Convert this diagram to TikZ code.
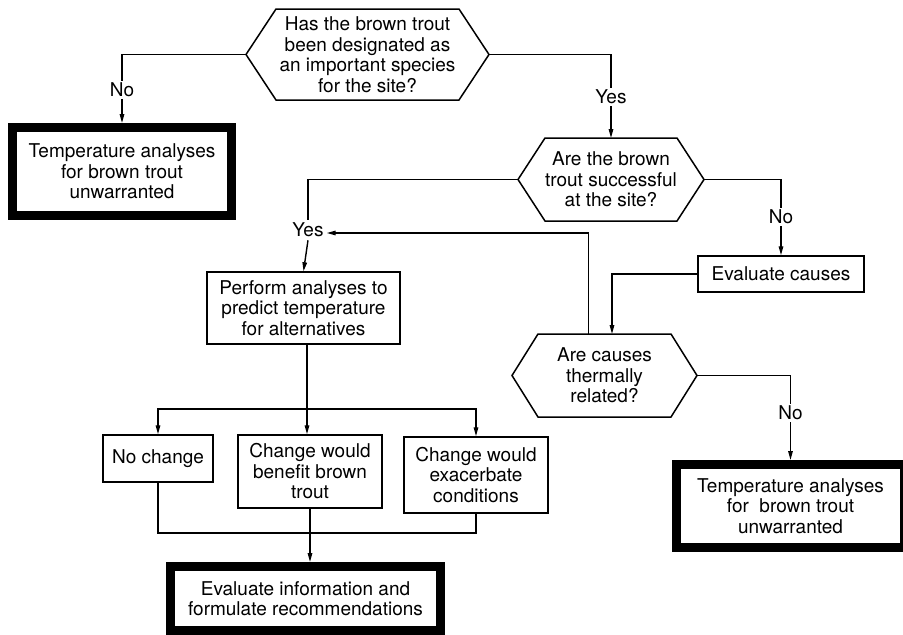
\documentclass[tikz,border=0pt]{standalone}
\usepackage{fontspec}
\setmainfont{TeX Gyre Heros}
\usetikzlibrary{arrows.meta,calc}
\tikzset{
  txt/.style={font=\fontsize{19}{20.5}\selectfont, align=center, inner sep=0pt},
  box/.style={txt, draw, line width=1.5pt},
  thickbox/.style={txt, draw, line width=9pt},
  hexnode/.style={txt, outer sep=0pt},
  hexline/.style={line width=1.5pt, line join=miter},
  conn/.style={line width=1.4pt},
  arr/.style={conn, -{Triangle[length=9pt,width=4.5pt]}},
  lbl/.style={txt, fill=white, inner sep=2pt}
}
\newcommand\hexdraw[2]{%
  \draw[hexline] (#1.west) -- ($(#1.north west)+(#2,0)$) -- ($(#1.north east)+(-#2,0)$)
    -- (#1.east) -- ($(#1.south east)+(-#2,0)$) -- ($(#1.south west)+(#2,0)$) -- cycle;}
\begin{document}
\begin{tikzpicture}[x=1pt,y=-1pt]
\useasboundingbox (0,0) rectangle (903,635);
\clip (0,0) rectangle (903,635);
\fill[white] (0,0) rectangle (903,635);

% decisions
\node[hexnode, minimum width=243pt, minimum height=91pt] (h1) at (367.5,54.5)
  {Has the brown trout\\been designated as\\an important species\\for the site?};
\hexdraw{h1}{30}
\node[hexnode, minimum width=186pt, minimum height=83pt] (h2) at (611,179.5)
  {Are the brown\\trout successful\\at the site?};
\hexdraw{h2}{27}
\node[hexnode, minimum width=185pt, minimum height=83pt] (h3) at (604.5,375.5)
  {Are causes\\thermally\\related?};
\hexdraw{h3}{26}

% terminal boxes
\node[thickbox, minimum width=219pt, minimum height=88pt] (lbox) at (122,171.5)
  {Temperature analyses\\for brown trout\\unwarranted};
\node[thickbox, minimum width=228pt, minimum height=83pt] (rbox) at (790.5,506)
  {Temperature analyses\\for~ brown trout\\unwarranted};
\node[thickbox, minimum width=270pt, minimum height=64pt] (evalbox) at (305.5,598.5)
  {Evaluate information and\\formulate recommendations};

% process boxes
\node[box, minimum width=193pt, minimum height=72pt] (perf) at (303.5,308)
  {Perform analyses to\\predict temperature\\for alternatives};
\node[box, minimum width=166pt, minimum height=36pt] (ec) at (781,274) {Evaluate causes};
\node[box, minimum width=110pt, minimum height=47pt] (nc) at (158,458.5) {No change};
\node[box, minimum width=144pt, minimum height=73pt] (bt) at (310,471.5)
  {Change would\\benefit brown\\trout};
\node[box, minimum width=144pt, minimum height=76pt] (ex) at (476,475)
  {Change would\\exacerbate\\conditions};

% Yes junction label
\node[txt] (yes2) at (308,230) {Yes};

% connectors
\draw[arr] (h1.west) -| node[lbl, pos=0.757] {No} (lbox.north);
\draw[arr] (h1.east) -| node[lbl, pos=0.755] {Yes} (h2.north);
\draw[conn] (h2.west) -| ($(yes2.north)+(0,-3)$);
\draw[arr] ($(yes2.south)+(0,3)$) -- (perf.north);
\draw[arr] ($(h3.north)+(-16,0)$) |- ($(yes2.east)+(3,3)$);
\draw[arr] (h2.east) -| node[lbl, pos=0.745] {No} (ec.north);
\draw[arr] (ec.west) -| ($(h3.north)+(7.5,0)$);
\draw[arr] (h3.east) -| node[lbl, pos=0.72] {No} (rbox.north);

\coordinate (split) at (307,409);
\draw[line width=2pt] (perf.south -| split) -- (split);
\draw[arr] (split) -| (nc.north);
\draw[arr] (split) -| (ex.north);
\draw[arr] (split) -- (split |- bt.north);

\coordinate (merge) at (310,533);
\draw[conn] (nc.south) |- (merge) -| (ex.south);
\draw[arr] (bt.south) -- (bt.south |- evalbox.north);
\end{tikzpicture}
\end{document}
